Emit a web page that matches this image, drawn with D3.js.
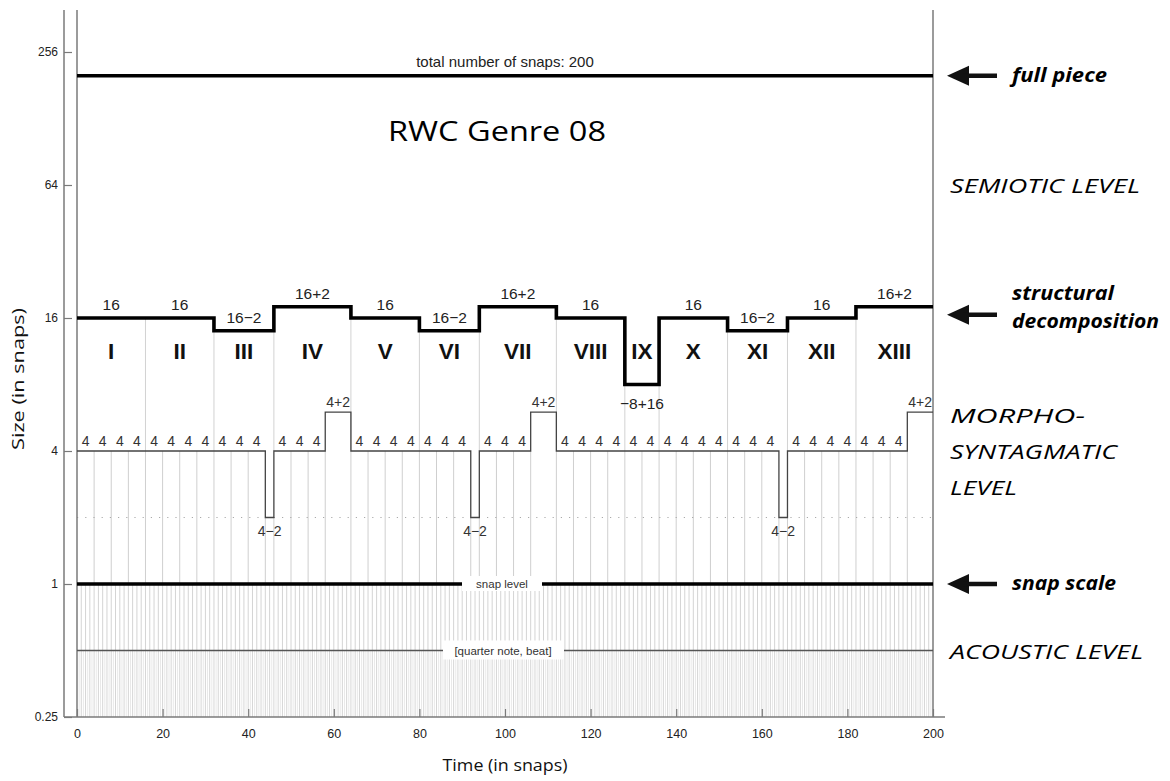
<!DOCTYPE html>
<html><head><meta charset="utf-8">
<script src="https://cdn.jsdelivr.net/npm/d3@7"></script>
<style>
html,body{margin:0;padding:0;background:#fff;}
svg{display:block;}
</style></head>
<body>
<svg id="chart" width="1170" height="781"></svg>
<script>
// ---------- data ----------
const totalSnaps = 200;
const structNames = ["I","II","III","IV","V","VI","VII","VIII","IX","X","XI","XII","XIII"];
const structSizes = [16,16,14,18,16,14,18,16,8,16,14,16,18];
const structLabels = ["16","16","16\u22122","16+2","16","16\u22122","16+2","16","\u22128+16","16","16\u22122","16","16+2"];
const morphoSizes = [4,4,4,4, 4,4,4,4, 4,4,4,2, 4,4,4,6, 4,4,4,4, 4,4,4,2, 4,4,4,6,
                     4,4,4,4, 4,4, 4,4,4,4, 4,4,4,2, 4,4,4,4, 4,4,4,6];
const morphoLabels = {4:"4", 6:"4+2", 2:"4\u22122"};
const yTickValues = [0.25,1,4,16,64,256];
const xTickValues = [0,20,40,60,80,100,120,140,160,180,200];
const snapLevel = 1;
const beatLevel = 0.5;
const dottedLevel = 2;
const levelNotes = [
  {lines:["SEMIOTIC LEVEL"], value:64, widths:[190]},
  {lines:["MORPHO-","SYNTAGMATIC","LEVEL"], value:6, widths:[135,167,67]},
  {lines:["ACOUSTIC LEVEL"], value:0.5, widths:[193]}
];
const arrowNotes = [
  {lines:["full piece"], value:200, widths:[95]},
  {lines:["structural","decomposition"], value:18, widths:[102,147]},
  {lines:["snap scale"], value:1, widths:[104]}
];

// ---------- layout ----------
const svg = d3.select("#chart");
const x = d3.scaleLinear().domain([0,totalSnaps]).range([77,933]);
const y = d3.scaleLog().base(2).domain([0.25,256]).range([717,52]);
const yTop = 10, axisX = 64;
const sansM = "'Liberation Sans', Arial, Helvetica, sans-serif";
const sansC = "'Open Sans', 'Noto Sans', sans-serif";

function starts(sizes){ let s=0; return sizes.map(d=>{const r=s; s+=d; return r;}); }
const structStart = starts(structSizes);
const morphoStart = starts(morphoSizes);

// ---------- background vertical lines ----------
const g = svg.append("g");
g.append("g").selectAll("line").data(d3.range(0.5, totalSnaps, 0.5)).join("line")
  .attr("x1",d=>x(d)).attr("x2",d=>x(d)).attr("y1",y(beatLevel)).attr("y2",y(0.25))
  .attr("stroke",d=>Number.isInteger(d)?"#d6d6d6":"#e9e9e9").attr("stroke-width",1);
g.append("g").selectAll("line").data(d3.range(1, totalSnaps, 1)).join("line")
  .attr("x1",d=>x(d)).attr("x2",d=>x(d)).attr("y1",y(snapLevel)).attr("y2",y(beatLevel))
  .attr("stroke","#d4d4d4").attr("stroke-width",1);
const mBounds = morphoStart.slice(1).map((s,i)=>({t:s, v:Math.min(morphoSizes[i],morphoSizes[i+1])}));
g.append("g").selectAll("line").data(mBounds).join("line")
  .attr("x1",d=>x(d.t)).attr("x2",d=>x(d.t)).attr("y1",d=>y(d.v)).attr("y2",y(snapLevel))
  .attr("stroke","#cfcfcf").attr("stroke-width",1);
const sBounds = structStart.slice(1).map((s,i)=>({t:s, v:Math.min(structSizes[i],structSizes[i+1])}));
g.append("g").selectAll("line").data(sBounds).join("line")
  .attr("x1",d=>x(d.t)).attr("x2",d=>x(d.t)).attr("y1",d=>y(d.v)).attr("y2",y(4))
  .attr("stroke","#d2d2d2").attr("stroke-width",1);

g.append("line").attr("x1",x(0)).attr("x2",x(totalSnaps)).attr("y1",y(dottedLevel)).attr("y2",y(dottedLevel))
  .attr("stroke","#aaa").attr("stroke-width",1.2).attr("stroke-dasharray","1.2,7");

// ---------- frame & axes ----------
const frame = svg.append("g").attr("stroke","#7a7a7a").attr("stroke-width",1.5);
frame.append("line").attr("x1",axisX).attr("x2",axisX).attr("y1",yTop).attr("y2",y(0.25));
frame.append("line").attr("x1",x(0)).attr("x2",x(0)).attr("y1",yTop).attr("y2",y(0.25));
frame.append("line").attr("x1",x(totalSnaps)).attr("x2",x(totalSnaps)).attr("y1",yTop).attr("y2",y(0.25));
frame.append("line").attr("x1",axisX).attr("x2",x(totalSnaps)+12).attr("y1",y(0.25)).attr("y2",y(0.25));

const yAxis = d3.axisLeft(y).tickValues(yTickValues).tickFormat(d=>String(d))
  .tickSizeInner(-8).tickSizeOuter(0).tickPadding(6);
const ya = svg.append("g").attr("transform",`translate(${axisX},0)`).call(yAxis);
ya.select(".domain").remove();
ya.selectAll(".tick line").attr("stroke","#7a7a7a").attr("stroke-width",1.2);
ya.selectAll(".tick text").attr("font-family",sansM).attr("font-size",12).attr("fill","#222");

const xAxis = d3.axisBottom(x).tickValues(xTickValues).tickFormat(d3.format("d"))
  .tickSizeInner(-8).tickSizeOuter(0).tickPadding(12);
const xa = svg.append("g").attr("transform",`translate(0,${y(0.25)})`).call(xAxis);
xa.select(".domain").remove();
xa.selectAll(".tick line").attr("stroke","#7a7a7a").attr("stroke-width",1.2);
xa.selectAll(".tick text").attr("font-family",sansM).attr("font-size",12.5).attr("fill","#222");

svg.append("text").attr("transform",`translate(24,${y(4)-72}) rotate(-90)`)
  .attr("text-anchor","middle").attr("font-family",sansC).attr("font-size",16).attr("fill","#111")
  .attr("textLength",142).attr("lengthAdjust","spacingAndGlyphs").text("Size (in snaps)");
svg.append("text").attr("x",x(100)).attr("y",771)
  .attr("text-anchor","middle").attr("font-family",sansC).attr("font-size",17).attr("fill","#111")
  .attr("textLength",125).attr("lengthAdjust","spacingAndGlyphs").text("Time (in snaps)");

// ---------- full piece ----------
svg.append("line").attr("x1",x(0)).attr("x2",x(totalSnaps)).attr("y1",y(totalSnaps)).attr("y2",y(totalSnaps))
  .attr("stroke","#000").attr("stroke-width",3.5);
svg.append("text").attr("x",x(totalSnaps/2)).attr("y",y(totalSnaps)-9).attr("text-anchor","middle")
  .attr("font-family",sansM).attr("font-size",15).attr("fill","#222")
  .text("total number of snaps: " + totalSnaps);

svg.append("text").attr("x",x(totalSnaps/2)-8).attr("y",141).attr("text-anchor","middle")
  .attr("font-family",sansC).attr("font-size",28).attr("fill","#000")
  .attr("textLength",218).attr("lengthAdjust","spacingAndGlyphs").text("RWC Genre 08");

// ---------- structure step line ----------
const step = d3.line().x(d=>x(d[0])).y(d=>y(d[1])).curve(d3.curveStepAfter);
const structPts = structStart.map((s,i)=>[s,structSizes[i]]).concat([[totalSnaps,structSizes[structSizes.length-1]]]);
svg.append("path").attr("d",step(structPts)).attr("fill","none").attr("stroke","#000")
  .attr("stroke-width",3.6).attr("stroke-linejoin","miter");

const sl = svg.append("g").attr("font-family",sansM).attr("fill","#222").attr("text-anchor","middle");
structSizes.forEach((v,i)=>{
  const cx = x(structStart[i]+v/2);
  const below = v < 12;
  sl.append("text").attr("x",cx).attr("y", below ? y(v)+24 : y(v)-8)
    .attr("font-size",15.5).text(structLabels[i]);
  sl.append("text").attr("x",cx).attr("y",y(16)+41).attr("font-size",22.5).attr("font-weight","bold")
    .attr("fill","#111").text(structNames[i]);
});

// ---------- morpho step line ----------
const morphoPts = morphoStart.map((s,i)=>[s,morphoSizes[i]]).concat([[totalSnaps,morphoSizes[morphoSizes.length-1]]]);
svg.append("path").attr("d",step(morphoPts)).attr("fill","none").attr("stroke","#444")
  .attr("stroke-width",1.3);
const ml = svg.append("g").attr("font-family",sansM).attr("fill","#333").attr("text-anchor","middle").attr("font-size",14);
morphoSizes.forEach((v,i)=>{
  const cx = x(morphoStart[i]+v/2);
  const below = v < 4;
  ml.append("text").attr("x",cx).attr("y", below ? y(v)+18 : y(v)-5).text(morphoLabels[v]);
});

// ---------- snap level & beat ----------
const cX = x(totalSnaps/2);
svg.append("line").attr("x1",x(0)).attr("x2",x(totalSnaps)).attr("y1",y(snapLevel)).attr("y2",y(snapLevel))
  .attr("stroke","#000").attr("stroke-width",3.6);
svg.append("rect").attr("x",cX-43).attr("y",y(snapLevel)-8).attr("width",80).attr("height",15).attr("fill","#fff");
svg.append("text").attr("x",cX-3).attr("y",y(snapLevel)+4).attr("text-anchor","middle")
  .attr("font-family",sansM).attr("font-size",11.5).attr("fill","#333").text("snap level");

svg.append("line").attr("x1",x(0)).attr("x2",x(totalSnaps)).attr("y1",y(beatLevel)).attr("y2",y(beatLevel))
  .attr("stroke","#555").attr("stroke-width",1.3);
svg.append("rect").attr("x",cX-62).attr("y",y(beatLevel)-10).attr("width",121).attr("height",19).attr("fill","#fff");
svg.append("text").attr("x",cX-2).attr("y",y(beatLevel)+4).attr("text-anchor","middle")
  .attr("font-family",sansM).attr("font-size",11.5).attr("fill","#333").text("[quarter note, beat]");

// ---------- right annotations ----------
const ann = svg.append("g").attr("font-family",sansC).attr("fill","#000");
const rx = x(totalSnaps);
levelNotes.forEach(n=>{
  const lh = 36, y0 = y(n.value) + 8;
  n.lines.forEach((t,k)=>{
    ann.append("text").attr("x",rx+17).attr("y",y0 + k*lh + (n.lines.length>1?3:0))
      .attr("font-size",20).attr("font-style","italic")
      .attr("textLength",n.widths[k]).attr("lengthAdjust","spacingAndGlyphs").text(t);
  });
});
arrowNotes.forEach(n=>{
  const ay = y(n.value)+(n.lines.length>1?8:0);
  ann.append("path").attr("d",`M${rx+14},${ay} L${rx+36},${ay-10} L${rx+36},${ay+10} Z`).attr("fill","#111");
  ann.append("line").attr("x1",rx+30).attr("x2",rx+64).attr("y1",ay).attr("y2",ay)
    .attr("stroke","#111").attr("stroke-width",4.5);
  const lh = 28;
  const yStart = n.lines.length>1 ? ay - 15 : ay + 6;
  n.lines.forEach((t,k)=>{
    ann.append("text").attr("x",rx+79).attr("y",yStart + k*lh)
      .attr("font-size",19).attr("font-style","italic").attr("font-weight","bold")
      .attr("textLength",n.widths[k]).attr("lengthAdjust","spacingAndGlyphs").text(t);
  });
});
</script>
</body></html>
